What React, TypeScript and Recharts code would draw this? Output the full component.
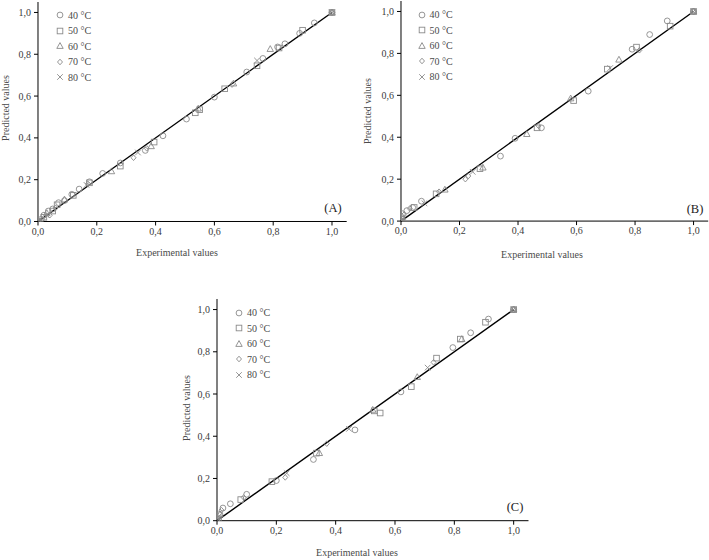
import React from "react";
import {
  ScatterChart,
  Scatter,
  XAxis,
  YAxis,
  ReferenceLine,
} from "recharts";

// series values as [experimental, predicted]
const seriesNames = ["40 °C", "50 °C", "60 °C", "70 °C", "80 °C"];
const markerKinds = ["circle", "square", "triangle", "diamond", "x"];
const axisTicks = [0, 0.2, 0.4, 0.6, 0.8, 1.0];
const fitLine = [
  { x: 0, y: 0 },
  { x: 1, y: 1 },
];

const a40 = [[0, 0], [0.01, 0.01], [0.02, 0.03], [0.035, 0.05], [0.05, 0.06], [0.07, 0.09], [0.09, 0.1], [0.115, 0.13], [0.14, 0.155], [0.175, 0.19], [0.22, 0.23], [0.28, 0.28], [0.365, 0.34], [0.425, 0.41], [0.505, 0.49], [0.6, 0.595], [0.71, 0.715], [0.765, 0.78], [0.815, 0.835], [0.84, 0.85], [0.89, 0.9], [0.94, 0.95], [1, 1]];
const a50 = [[0, 0], [0.02, 0.02], [0.05, 0.05], [0.065, 0.08], [0.12, 0.125], [0.175, 0.185], [0.28, 0.265], [0.395, 0.38], [0.535, 0.52], [0.55, 0.535], [0.635, 0.635], [0.745, 0.745], [0.82, 0.83], [0.9, 0.915], [1, 1]];
const a60 = [[0, 0], [0.03, 0.04], [0.09, 0.105], [0.25, 0.24], [0.385, 0.36], [0.545, 0.54], [0.665, 0.66], [0.79, 0.825], [1, 1]];
const a70 = [[0, 0], [0.015, 0.01], [0.04, 0.03], [0.06, 0.065], [0.17, 0.18], [0.325, 0.305], [0.37, 0.35], [0.66, 0.655], [1, 1]];
const a80 = [[0, 0], [0.01, 0.005], [0.03, 0.03], [0.165, 0.175], [0.34, 0.33], [0.745, 0.77], [1, 1]];

const b40 = [[0, 0], [0.005, 0.035], [0.02, 0.05], [0.04, 0.065], [0.07, 0.095], [0.34, 0.31], [0.39, 0.395], [0.48, 0.445], [0.64, 0.62], [0.79, 0.82], [0.85, 0.89], [0.91, 0.955], [1, 1]];
const b50 = [[0, 0], [0.003, 0.01], [0.045, 0.065], [0.12, 0.13], [0.27, 0.25], [0.465, 0.445], [0.59, 0.575], [0.705, 0.725], [0.805, 0.83], [0.92, 0.93], [1, 1]];
const b60 = [[0, 0], [0.005, 0.02], [0.15, 0.15], [0.28, 0.255], [0.43, 0.415], [0.58, 0.585], [0.745, 0.77], [1, 1]];
const b70 = [[0, 0], [0.01, 0.03], [0.03, 0.06], [0.13, 0.14], [0.22, 0.2], [0.23, 0.215], [0.47, 0.455], [0.815, 0.815], [1, 1]];
const b80 = [[0, 0], [0.002, 0.005], [0.08, 0.085], [0.245, 0.235], [0.715, 0.73], [1, 1]];

const c40 = [[0, 0], [0.01, 0.03], [0.02, 0.06], [0.045, 0.08], [0.1, 0.125], [0.2, 0.19], [0.325, 0.29], [0.465, 0.43], [0.62, 0.61], [0.795, 0.82], [0.855, 0.89], [0.915, 0.955], [1, 1]];
const c50 = [[0, 0], [0.005, 0.01], [0.08, 0.1], [0.185, 0.185], [0.335, 0.32], [0.53, 0.52], [0.55, 0.51], [0.655, 0.635], [0.74, 0.77], [0.82, 0.86], [0.905, 0.94], [1, 1]];
const c60 = [[0, 0], [0.01, 0.03], [0.345, 0.32], [0.525, 0.525], [0.675, 0.68], [0.825, 0.86], [1, 1]];
const c70 = [[0, 0], [0.015, 0.05], [0.09, 0.11], [0.23, 0.205], [0.37, 0.365], [0.73, 0.75], [1, 1]];
const c80 = [[0, 0], [0.005, 0.02], [0.235, 0.225], [0.445, 0.435], [0.71, 0.725], [1, 1]];

const FONT = '"Liberation Serif", "Times New Roman", serif';
const MARK = "#8a8a8a";

const toPoints = (arr: number[][]) => arr.map(([x, y]) => ({ x, y }));
const fmt = (v: number) => v.toFixed(1).replace(".", ",");

function Marker({ kind, cx, cy }: { kind: string; cx: number; cy: number }) {
  const common = { fill: "none", stroke: MARK, strokeWidth: 0.9 };
  if (kind === "circle") return <circle cx={cx} cy={cy} r={2.9} {...common} />;
  if (kind === "square")
    return <rect x={cx - 2.8} y={cy - 2.8} width={5.6} height={5.6} {...common} />;
  if (kind === "triangle")
    return (
      <polygon
        points={`${cx},${cy - 3.4} ${cx + 3.2},${cy + 2.4} ${cx - 3.2},${cy + 2.4}`}
        {...common}
      />
    );
  if (kind === "diamond")
    return (
      <polygon
        points={`${cx},${cy - 2.8} ${cx + 2.5},${cy} ${cx},${cy + 2.8} ${cx - 2.5},${cy}`}
        {...common}
      />
    );
  return (
    <path
      d={`M${cx - 2.8},${cy - 2.8}L${cx + 2.8},${cy + 2.8}M${cx - 2.8},${cy + 2.8}L${cx + 2.8},${cy - 2.8}`}
      {...common}
    />
  );
}

interface PanelProps {
  series: number[][][];
  x0: number;
  yTop: number;
  pw: number;
  ph: number;
}

const Panel: React.FC<PanelProps> = ({ series, x0, yTop, pw, ph }) => {
  return (
    <div style={{ position: "absolute", left: x0 - 38, top: yTop - 2 }}>
      <ScatterChart
        width={pw + 48}
        height={ph + 26}
        margin={{ left: 8, top: 2, right: 10, bottom: 6 }}
      >
        <XAxis
          type="number"
          dataKey="x"
          domain={[0, 1.05]}
          ticks={axisTicks}
          tickFormatter={fmt}
          height={20}
          stroke="#000"
          tickSize={4}
          tickMargin={2}
          tick={{ fill: "#3a3a3a", fontSize: 10, fontFamily: FONT }}
          allowDataOverflow
        />
        <YAxis
          type="number"
          dataKey="y"
          domain={[0, 1.05]}
          ticks={axisTicks}
          tickFormatter={fmt}
          width={30}
          stroke="#000"
          tickSize={4}
          tickMargin={3}
          tick={{ fill: "#3a3a3a", fontSize: 10, fontFamily: FONT }}
          allowDataOverflow
        />
        {series.map((s, i) => (
          <Scatter
            key={seriesNames[i]}
            name={seriesNames[i]}
            data={toPoints(s)}
            isAnimationActive={false}
            shape={(p: any) => <Marker kind={markerKinds[i]} cx={p.cx} cy={p.cy} />}
          />
        ))}
        <ReferenceLine
          segment={fitLine}
          stroke="#000"
          strokeWidth={1.4}
          ifOverflow="visible"
        />
      </ScatterChart>
    </div>
  );
};

const Legend: React.FC<{ left: number; top: number }> = ({ left, top }) => (
  <div style={{ position: "absolute", left, top }}>
    {seriesNames.map((n, i) => (
      <div
        key={n}
        style={{
          position: "absolute",
          top: i * 15.5,
          left: 0,
          height: 12,
          display: "flex",
          alignItems: "center",
          whiteSpace: "nowrap",
          fontFamily: FONT,
          fontSize: 10,
          color: "#4a4a4a",
        }}
      >
        <svg width={10} height={10} style={{ marginRight: 3 }}>
          <Marker kind={markerKinds[i]} cx={5} cy={5} />
        </svg>
        {n}
      </div>
    ))}
  </div>
);

const text = (s: string, cx: number, cy: number, size: number, rotate = false, color = "#4a4a4a") => (
  <div
    style={{
      position: "absolute",
      left: cx,
      top: cy,
      transform: `translate(-50%, -50%)${rotate ? " rotate(-90deg)" : ""}`,
      whiteSpace: "nowrap",
      fontFamily: FONT,
      fontSize: size,
      color,
      lineHeight: 1,
    }}
  >
    {s}
  </div>
);

export default function App() {
  return (
    <div
      style={{
        position: "absolute",
        left: 0,
        top: 0,
        width: 709,
        height: 560,
        overflow: "hidden",
        background: "#fff",
      }}
    >
      <Panel series={[a40, a50, a60, a70, a80]} x0={37.7} yTop={1.8} pw={308.7} ph={221.5} />
      <Panel series={[b40, b50, b60, b70, b80]} x0={400.7} yTop={1.2} pw={307.2} ph={222.1} />
      <Panel series={[c40, c50, c60, c70, c80]} x0={217.3} yTop={298.6} pw={311.5} ph={223.7} />

      <Legend left={55} top={9} />
      <Legend left={416.5} top={8.5} />
      <Legend left={234} top={306.5} />

      {text("Predicted values", 6, 108, 10, true)}
      {text("Experimental values", 177, 253, 10)}
      {text("(A)", 333, 208, 12.5, false, "#222")}

      {text("Predicted values", 368, 111, 10, true)}
      {text("Experimental values", 542, 255, 10)}
      {text("(B)", 695, 209, 12.5, false, "#222")}

      {text("Predicted values", 187, 408, 10, true)}
      {text("Experimental values", 357, 553, 10)}
      {text("(C)", 515, 507, 12.5, false, "#222")}
    </div>
  );
}
